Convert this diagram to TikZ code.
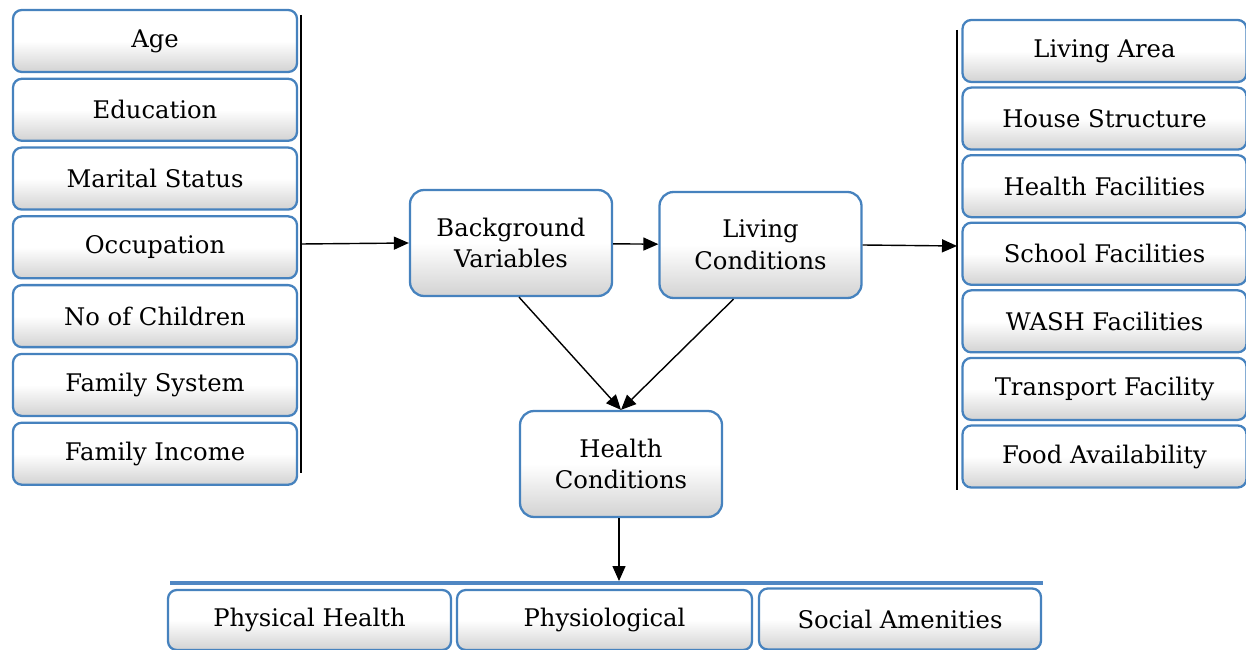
\documentclass[tikz,border=0pt]{standalone}
\usepackage{fontspec}
\setmainfont{DejaVu Serif}
\usepackage{xcolor}
\usetikzlibrary{arrows.meta,positioning}
\definecolor{boxblue}{RGB}{70,130,190}
\definecolor{barblue}{RGB}{80,135,195}

\begin{document}
\begin{tikzpicture}[
    node distance=0.09cm,
    item/.style={rectangle,rounded corners=5pt,draw=boxblue,line width=1.3pt,
      top color=white,bottom color=gray!35,middle color=white,
      minimum width=5.68cm,minimum height=1.24cm,align=center,font=\fontsize{13.8}{18}\selectfont},
    hub/.style={item,minimum width=4.04cm,minimum height=2.12cm,rounded corners=8pt},
    arrow/.style={-{Triangle[length=3mm,width=2.6mm]},line width=0.8pt}
  ]
    \useasboundingbox (0,0) rectangle (24.92,-13);

    % left column
    \node[item] (age) at (3.1,-0.82) {Age};
    \node[item,below=of age] (edu) {Education};
    \node[item,below=of edu] (marital) {Marital Status};
    \node[item,below=of marital] (occ) {Occupation};
    \node[item,below=of occ] (child) {No of Children};
    \node[item,below=of child] (family) {Family System};
    \node[item,below=of family] (income) {Family Income};

    % right column
    \node[item] (area) at (22.09,-1.02) {Living Area};
    \node[item,below=0.066cm of area] (house) {House Structure};
    \node[item,below=0.066cm of house] (health) {Health Facilities};
    \node[item,below=0.066cm of health] (school) {School Facilities};
    \node[item,below=0.066cm of school] (wash) {WASH Facilities};
    \node[item,below=0.066cm of wash] (transport) {Transport Facility};
    \node[item,below=0.066cm of transport] (food) {Food Availability};

    % middle
    \node[hub] (bg) at (10.22,-4.86) {Background\\Variables};
    \node[hub] (living) at (15.21,-4.9) {Living\\Conditions};
    \node[hub] (hc) at (12.42,-9.28) {Health\\Conditions};

    % bottom row
    \node[item,minimum width=5.66cm,minimum height=1.2cm] (phys) at (6.19,-12.4) {Physical Health};
    \node[item,minimum width=5.9cm,minimum height=1.2cm] (physio) at (12.09,-12.4) {Physiological};
    \node[item,minimum width=5.64cm,minimum height=1.22cm] (social) at (18.0,-12.38) {Social Amenities};

    % brackets
    \coordinate (ltop) at (6.02,-0.3);
    \coordinate (lbot) at (6.02,-9.46);
    \coordinate (lmid) at (6.02,-4.88);
    \coordinate (rtop) at (19.14,-0.6);
    \coordinate (rbot) at (19.14,-9.8);
    \coordinate (rmid) at (19.14,-4.92);
    \coordinate (barl) at (3.4,-11.66);
    \coordinate (barr) at (20.86,-11.66);
    \coordinate (barm) at (12.38,-11.66);
    \draw[line width=0.9pt] (ltop) -- (lbot);
    \draw[line width=0.9pt] (rtop) -- (rbot);
    \draw[barblue,line width=2.2pt] (barl) -- (barr);

    \draw[arrow] (lmid) -- (bg.west);
    \draw[arrow] (bg) -- (living);
    \draw[arrow] (living.east) -- (rmid);
    \draw[arrow] ([xshift=0.16cm]bg.south) -- (hc.north);
    \draw[arrow] ([xshift=-0.54cm]living.south) -- (hc.north);
    \draw[arrow] ([xshift=-0.04cm]hc.south) -- ([yshift=0.04cm]barm);
  \end{tikzpicture}
\end{document}
